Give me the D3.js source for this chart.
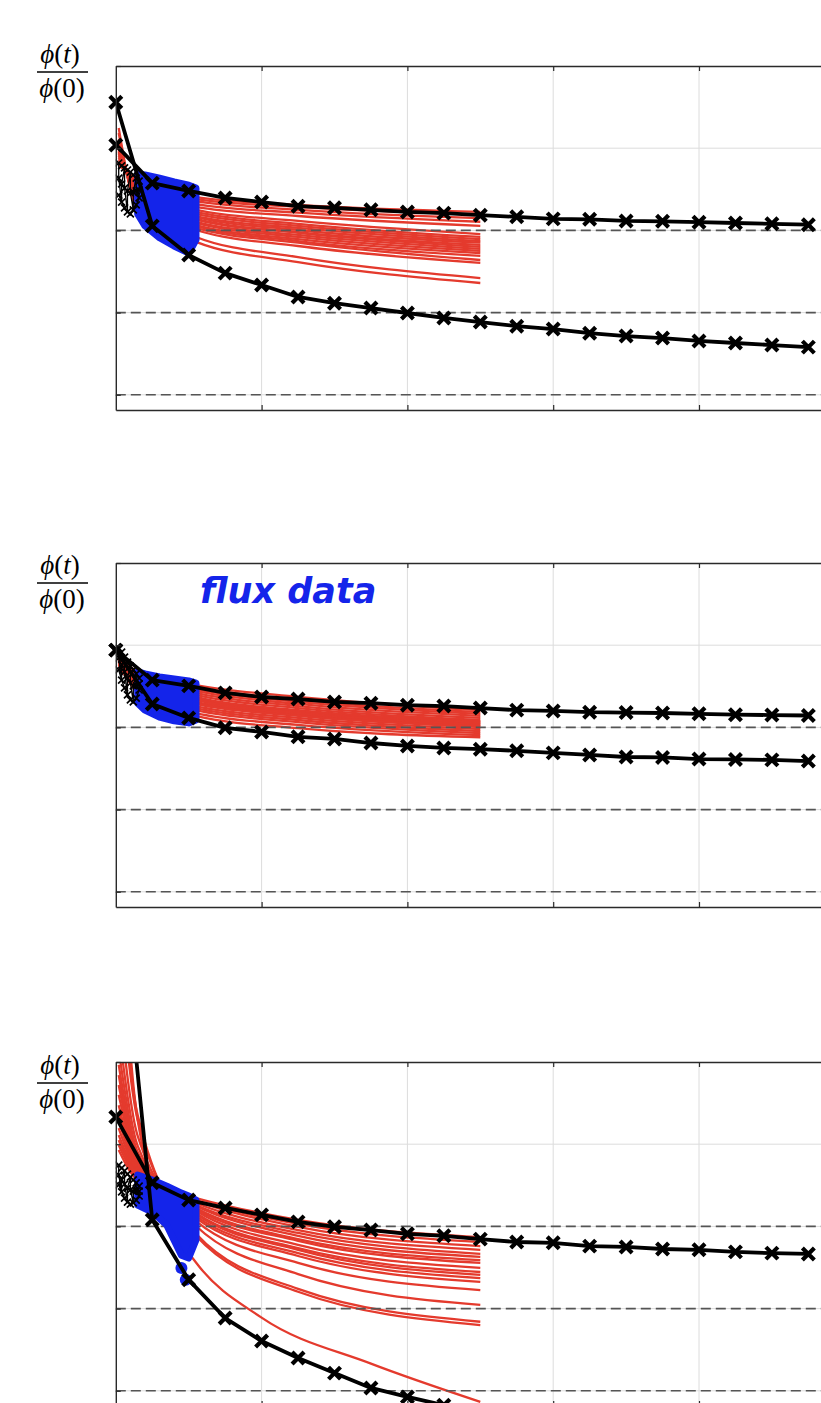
<!DOCTYPE html>
<html><head><meta charset="utf-8">
<script src="https://cdn.jsdelivr.net/npm/d3@7"></script>
<style>body{margin:0;background:#fff;overflow:hidden}svg{display:block}</style>
</head><body>
<svg id="c" width="821" height="1403"></svg>
<script>
// ---------- data ----------
const markerT = [0,0.25,0.5,0.75,1,1.25,1.5,1.75,2,2.25,2.5,2.75,3,3.25,3.5,3.75,4,4.25,4.5,4.75];
const xGridTicks = [1,2,3,4];
const yGridTicks = [1.2,1.0,0.8,0.6,0.4];
const yDashed = [0.8,0.6,0.4];
const yDomain = [0.363,1.2];
const xDomain = [0,5];

// black model curves with markers
const p1Upper = [1.008,0.915,0.896,0.879,0.869,0.859,0.855,0.850,0.845,0.842,0.837,0.833,0.828,0.827,0.823,0.822,0.820,0.818,0.816,0.814];
const p1Lower = [1.112,0.811,0.740,0.696,0.667,0.638,0.623,0.611,0.599,0.587,0.577,0.567,0.560,0.550,0.543,0.538,0.531,0.526,0.521,0.516];
const p2Upper = [0.988,0.915,0.901,0.884,0.874,0.869,0.862,0.859,0.854,0.852,0.847,0.842,0.840,0.837,0.836,0.835,0.833,0.831,0.830,0.829];
const p2Lower = [0.988,0.857,0.823,0.799,0.789,0.777,0.772,0.762,0.755,0.750,0.747,0.743,0.738,0.733,0.728,0.727,0.723,0.722,0.721,0.718];
const p3Upper = [1.066,0.906,0.864,0.845,0.828,0.811,0.799,0.791,0.782,0.777,0.769,0.762,0.760,0.752,0.750,0.745,0.743,0.738,0.735,0.733];
const p3Lower = [1.706,0.816,0.670,0.577,0.521,0.480,0.443,0.407,0.385,0.365,0.348];

// red ensemble curves: values of every curve at the times in redT
const redT = [0.02,0.15,0.55,1.25,2.5];
const p1Red002 = [0.959,0.964,0.966,0.971,0.976,0.981,0.986,0.988,0.991,0.993,0.996,0.998,1.000,1.005,1.007,1.012,1.017,1.022,1.037,1.049];
const p1Red015 = [0.923,0.920,0.918,0.913,0.908,0.903,0.901,0.898,0.896,0.893,0.891,0.888,0.886,0.884,0.881,0.879,0.874,0.869,0.859,0.850];
const p1Red055 = [0.881,0.876,0.871,0.864,0.857,0.850,0.845,0.840,0.835,0.833,0.828,0.826,0.821,0.818,0.813,0.811,0.806,0.801,0.784,0.772];
const p1Red125 = [0.862,0.857,0.850,0.843,0.835,0.823,0.816,0.811,0.806,0.801,0.796,0.794,0.789,0.784,0.779,0.774,0.770,0.762,0.735,0.723];
const p1Red250 = [0.845,0.838,0.830,0.821,0.811,0.791,0.784,0.779,0.774,0.770,0.765,0.760,0.755,0.750,0.745,0.738,0.728,0.721,0.684,0.672];

const p2Red002 = [0.976,0.976,0.974,0.974,0.971,0.971,0.969,0.969,0.966,0.966,0.964,0.964,0.962,0.962,0.959,0.957,0.954,0.952];
const p2Red015 = [0.935,0.932,0.930,0.927,0.925,0.923,0.920,0.918,0.915,0.913,0.910,0.908,0.906,0.903,0.901,0.896,0.891,0.886];
const p2Red055 = [0.903,0.898,0.893,0.889,0.884,0.879,0.874,0.871,0.869,0.867,0.862,0.859,0.857,0.852,0.847,0.842,0.835,0.828];
const p2Red125 = [0.874,0.867,0.862,0.857,0.852,0.847,0.842,0.840,0.837,0.835,0.833,0.830,0.828,0.823,0.818,0.813,0.806,0.798];
const p2Red250 = [0.842,0.837,0.833,0.828,0.823,0.818,0.815,0.813,0.811,0.808,0.806,0.803,0.801,0.796,0.791,0.786,0.781,0.776];

const p3Red002 = [0.986,0.998,1.010,1.022,1.039,1.059,1.078,1.095,1.120,1.144,1.168,1.193,1.229,1.278,1.351,1.448,1.497];
const p3Red015 = [0.913,0.918,0.923,0.927,0.932,0.937,0.942,0.947,0.952,0.957,0.962,0.971,0.981,0.996,1.020,1.059,1.071];
const p3Red055 = [0.869,0.864,0.862,0.857,0.852,0.850,0.845,0.842,0.838,0.833,0.830,0.825,0.820,0.813,0.801,0.782,0.777];
const p3Red125 = [0.816,0.806,0.799,0.791,0.784,0.777,0.769,0.765,0.755,0.747,0.743,0.735,0.728,0.711,0.684,0.648,0.641];
const p3Red250 = [0.774,0.762,0.752,0.743,0.733,0.726,0.718,0.711,0.699,0.689,0.682,0.674,0.665,0.645,0.609,0.568,0.560];
const p3LongRedT = [0.02,0.15,0.4,0.55,1.0,1.75,2.5];
const p3LongRedV = [1.643,1.059,0.791,0.712,0.578,0.466,0.373];

// blue flux data envelope
const blueT12 = [0.15,0.2,0.3,0.4,0.5,0.55];
const blueT3 = [0.15,0.25,0.35,0.45,0.5,0.55];
const p1BlueTop = [0.937,0.935,0.927,0.918,0.910,0.903];
const p1BlueBot = [0.840,0.811,0.782,0.762,0.745,0.777];
const p2BlueTop = [0.935,0.930,0.923,0.918,0.913,0.908];
const p2BlueBot = [0.859,0.842,0.825,0.816,0.811,0.818];
const p3BlueTop = [0.925,0.913,0.898,0.881,0.874,0.864];
const p3BlueBot = [0.852,0.835,0.803,0.730,0.723,0.767];
const p3BlueDotT = [0.45,0.48];
const p3BlueDotV = [0.699,0.670];

// small black crosses near t = 0
const clusterT = [0.02,0.04,0.06,0.08,0.10,0.12,0.14,0.16];
const p1ClHi = [0.964,0.957,0.952,0.947,0.942,0.935,0.927,0.920];
const p1ClMid = [0.927,0.913,0.903,0.896,0.891,0.893,0.896,0.898];
const p1ClLo = [0.886,0.869,0.855,0.845,0.840,0.850,0.862,0.879];
const p2ClHi = [0.993,0.983,0.971,0.959,0.949,0.940,0.930,0.920];
const p2ClMid = [0.969,0.952,0.935,0.920,0.908,0.901,0.901,0.906];
const p2ClLo = [0.940,0.915,0.896,0.879,0.867,0.862,0.871,0.891];
const p3ClHi = [0.949,0.942,0.935,0.927,0.920,0.913,0.906,0.898];
const p3ClMid = [0.925,0.913,0.903,0.893,0.889,0.886,0.886,0.886];
const p3ClLo = [0.901,0.884,0.869,0.859,0.854,0.857,0.864,0.874];

// ---------- layout ----------
const panels = [
  {top:66, upper:p1Upper, lower:p1Lower, red:[p1Red002,p1Red015,p1Red055,p1Red125,p1Red250],
   blueT:blueT12, blueTop:p1BlueTop, blueBot:p1BlueBot, cl:[p1ClHi,p1ClMid,p1ClLo], labelY:63},
  {top:563, upper:p2Upper, lower:p2Lower, red:[p2Red002,p2Red015,p2Red055,p2Red125,p2Red250],
   blueT:blueT12, blueTop:p2BlueTop, blueBot:p2BlueBot, cl:[p2ClHi,p2ClMid,p2ClLo], labelY:574, title:"flux data"},
  {top:1062, upper:p3Upper, lower:p3Lower, red:[p3Red002,p3Red015,p3Red055,p3Red125,p3Red250],
   blueT:blueT3, blueTop:p3BlueTop, blueBot:p3BlueBot, cl:[p3ClHi,p3ClMid,p3ClLo], labelY:1074,
   longRed:{t:p3LongRedT, v:p3LongRedV}, dots:{t:p3BlueDotT, v:p3BlueDotV}}
];
const H = 344;
const RED = "#e43a2d", BLUE = "#1424ea", AX = "#2a2a2a";
const svg = d3.select("#c");
const defs = svg.append("defs");
const x = d3.scaleLinear().domain(xDomain).range([115.8, 844.8]);
const crossPath = s => `M${-s},${-s}L${s},${s}M${-s},${s}L${s},${-s}`;

panels.forEach((p, i) => {
  const y = d3.scaleLinear().domain(yDomain).range([p.top + H, p.top]);
  const g = svg.append("g");
  const cid = "clip" + i;
  defs.append("clipPath").attr("id", cid).append("rect")
    .attr("x", x(xDomain[0])).attr("y", p.top)
    .attr("width", x(xDomain[1]) - x(xDomain[0])).attr("height", H);

  // grid
  g.append("g").selectAll("line").data(xGridTicks).join("line")
    .attr("x1", d => x(d)).attr("x2", d => x(d)).attr("y1", p.top).attr("y2", p.top + H)
    .attr("stroke", "#dcdcdc").attr("stroke-width", 1);
  g.append("g").selectAll("line").data(yGridTicks.filter(v => v < yDomain[1])).join("line")
    .attr("x1", x(xDomain[0])).attr("x2", x(xDomain[1])).attr("y1", d => y(d)).attr("y2", d => y(d))
    .attr("stroke", "#dcdcdc").attr("stroke-width", 1);

  const plot = g.append("g").attr("clip-path", `url(#${cid})`);
  const smooth = d3.line().x(d => x(d[0])).y(d => y(d[1])).curve(d3.curveMonotoneX);
  const straight = d3.line().x(d => x(d[0])).y(d => y(d[1]));

  // red ensemble
  const nRed = p.red[0].length;
  const redCurves = d3.range(nRed).map(j => redT.map((t, k) => [t, p.red[k][j]]));
  if (p.longRed) redCurves.push(p.longRed.t.map((t, k) => [t, p.longRed.v[k]]));
  plot.append("g").selectAll("path").data(redCurves).join("path")
    .attr("d", smooth).attr("fill", "none").attr("stroke", RED).attr("stroke-width", 2.3);

  // dashed reference lines
  plot.append("g").selectAll("line").data(yDashed).join("line")
    .attr("x1", x(xDomain[0])).attr("x2", x(xDomain[1])).attr("y1", d => y(d)).attr("y2", d => y(d))
    .attr("stroke", "#555").attr("stroke-width", 1.6).attr("stroke-dasharray", "10,5");

  // blue flux data
  const blue = p.blueT.map((t, k) => [t, p.blueTop[k], p.blueBot[k]]);
  const area = d3.area().x(d => x(d[0])).y0(d => y(d[2])).y1(d => y(d[1]));
  plot.append("path").datum(blue).attr("d", area)
    .attr("fill", BLUE).attr("stroke", BLUE).attr("stroke-width", 7).attr("stroke-linejoin", "round");
  if (p.dots) {
    plot.append("g").selectAll("circle").data(p.dots.t.map((t, k) => [t, p.dots.v[k]])).join("circle")
      .attr("cx", d => x(d[0])).attr("cy", d => y(d[1])).attr("r", 6).attr("fill", BLUE);
  }

  // small black crosses cluster
  const zig = [];
  clusterT.forEach((t, k) => { zig.push([t, p.cl[k % 2 === 0 ? 0 : 2][k]]); zig.push([t, p.cl[1][k]]); });
  plot.append("path").datum(zig).attr("d", straight).attr("fill", "none")
    .attr("stroke", "#000").attr("stroke-width", 1.3);
  p.cl.forEach(row => {
    const pts = clusterT.map((t, k) => [t, row[k]]);
    plot.append("path").datum(pts).attr("d", straight).attr("fill", "none")
      .attr("stroke", "#000").attr("stroke-width", 1.4);
    plot.append("g").selectAll("path").data(pts).join("path")
      .attr("transform", d => `translate(${x(d[0])},${y(d[1])})`)
      .attr("d", crossPath(3.5)).attr("stroke", "#000").attr("stroke-width", 1.7).attr("fill", "none");
  });

  // black model curves
  [p.upper, p.lower].forEach(vals => {
    const pts = vals.map((v, k) => [markerT[k], v]);
    plot.append("path").datum(pts).attr("d", straight).attr("fill", "none")
      .attr("stroke", "#000").attr("stroke-width", 3.8).attr("stroke-linejoin", "round");
    g.append("g").selectAll("path").data(pts.filter(d => d[1] <= yDomain[1] && d[1] >= yDomain[0])).join("path")
      .attr("transform", d => `translate(${x(d[0])},${y(d[1])})`)
      .attr("d", crossPath(6)).attr("stroke", "#000").attr("stroke-width", 4.2).attr("fill", "none");
  });

  // axes box with inward ticks
  const styleAx = sel => {
    sel.select(".domain").attr("stroke", AX).attr("stroke-width", 1.4);
    sel.selectAll(".tick line").attr("stroke", AX).attr("stroke-width", 1.2);
  };
  g.append("g").attr("transform", `translate(0,${p.top + H})`)
    .call(d3.axisBottom(x).tickValues(xGridTicks).tickSize(-5).tickSizeOuter(0).tickFormat("")).call(styleAx);
  g.append("g").attr("transform", `translate(0,${p.top})`)
    .call(d3.axisTop(x).tickValues(xGridTicks).tickSize(-5).tickSizeOuter(0).tickFormat("")).call(styleAx);
  g.append("g").attr("transform", `translate(${x(xDomain[0])},0)`)
    .call(d3.axisLeft(y).tickValues(yGridTicks).tickSize(-5).tickSizeOuter(0).tickFormat("")).call(styleAx);
  g.append("g").attr("transform", `translate(${x(xDomain[1])},0)`)
    .call(d3.axisRight(y).tickValues(yGridTicks).tickSize(-5).tickSizeOuter(0).tickFormat("")).call(styleAx);

  // y label: phi(t)/phi(0)
  const lab = svg.append("g").attr("font-family", "'Liberation Serif','DejaVu Serif',serif")
    .attr("font-size", 27).attr("fill", "#000").attr("text-anchor", "middle");
  const num = lab.append("text").attr("x", 60).attr("y", p.labelY);
  num.append("tspan").attr("font-style", "italic").text("ϕ");
  num.append("tspan").text("(");
  num.append("tspan").attr("font-style", "italic").text("t");
  num.append("tspan").text(")");
  lab.append("line").attr("x1", 37).attr("x2", 88).attr("y1", p.labelY + 9).attr("y2", p.labelY + 9)
    .attr("stroke", "#000").attr("stroke-width", 1.3);
  const den = lab.append("text").attr("x", 62).attr("y", p.labelY + 34);
  den.append("tspan").attr("font-style", "italic").text("ϕ");
  den.append("tspan").text("(0)");

  if (p.title) {
    svg.append("text").attr("x", 200).attr("y", p.top + 40)
      .attr("font-family", "'DejaVu Sans',sans-serif").attr("font-weight", "bold").attr("font-style", "italic")
      .attr("font-size", 35).attr("fill", BLUE).text(p.title);
  }
});
</script>
</body></html>
